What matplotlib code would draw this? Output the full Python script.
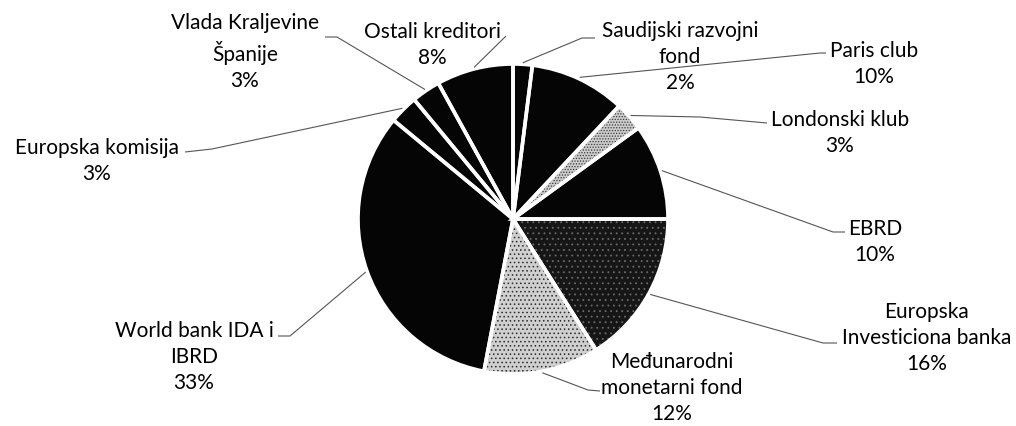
import matplotlib
matplotlib.use("Agg")
import matplotlib.pyplot as plt
import numpy as np

# ---- data ----
categories = ["Saudijski razvojni\nfond", "Paris club", "Londonski klub", "EBRD",
              "Europska\nInvesticiona banka", "Međunarodni\nmonetarni fond",
              "World bank IDA i\nIBRD", "Europska komisija",
              "Vlada Kraljevine\nŠpanije", "Ostali kreditori"]
values = [2, 10, 3, 10, 16, 12, 33, 3, 3, 8]

# ---- styles ----
face_colors = ["#050505", "#050505", "#cccccc", "#050505", "#161616",
               "#cfcfcf", "#050505", "#050505", "#050505", "#050505"]
hatches = [None, None, "......", None, "...", "....", None, None, None, None]
hatch_colors = ["#050505", "#050505", "#3a3a3a", "#050505", "#6a6a6a",
                "#2a2a2a", "#050505", "#050505", "#050505", "#050505"]

# layout (pixel coordinates, y measured from the top)
W, H = 1016, 427
center_px = (513, 220)
radius = 155
label_pos = [(680, 57), (874, 64), (840, 133), (875, 242), (927, 338),
             (672, 388), (194, 357), (97, 161), (245, 52), (432, 45)]
leader_mid = [(582, 39), (820, 54), (700, 118), (833, 233), (823, 344),
              (588, 391), (290, 337), (212, 150), (337, 38), (505, 38)]
leader_end = [(595, 39), (826, 54), (767, 124), (845, 233), (837, 344),
              (600, 392), (278, 337), (185, 153), (325, 38), (506, 37)]

plt.rcParams['font.family'] = ['Lato', 'DejaVu Sans']
plt.rcParams['hatch.linewidth'] = 0.6

fig = plt.figure(figsize=(W / 100, H / 100), dpi=100)
ax = fig.add_axes([0, 0, 1, 1])

cx, cy = center_px[0], H - center_px[1]
wedges, _ = ax.pie(values, startangle=90, counterclock=False, radius=radius,
                   center=(cx, cy), colors=face_colors,
                   wedgeprops=dict(linewidth=0))
for w, h, hc in zip(wedges, hatches, hatch_colors):
    w.set_edgecolor(hc)
    if h:
        w.set_hatch(h)

# white separators
sep, _ = ax.pie(values, startangle=90, counterclock=False, radius=radius,
                center=(cx, cy),
                wedgeprops=dict(fill=False, edgecolor="white", linewidth=2.6))

ax.set_xlim(0, W)
ax.set_ylim(0, H)
ax.set_aspect('equal')
ax.axis('off')

for w, cat, v, lp, lm, le in zip(wedges, categories, values, label_pos,
                                 leader_mid, leader_end):
    ang = np.deg2rad((w.theta1 + w.theta2) / 2)
    sx = cx + radius * 1.01 * np.cos(ang)
    sy = cy + radius * 1.01 * np.sin(ang)
    ax.plot([sx, lm[0], le[0]], [sy, H - lm[1], H - le[1]],
            color="#555555", lw=0.8, solid_capstyle='butt')
    ax.text(lp[0], H - lp[1], f"{cat}\n{v}%", ha="center", va="center",
            fontsize=15, color="#000000", linespacing=1.4,
            multialignment="center")

fig.savefig("out.png", dpi=100)
